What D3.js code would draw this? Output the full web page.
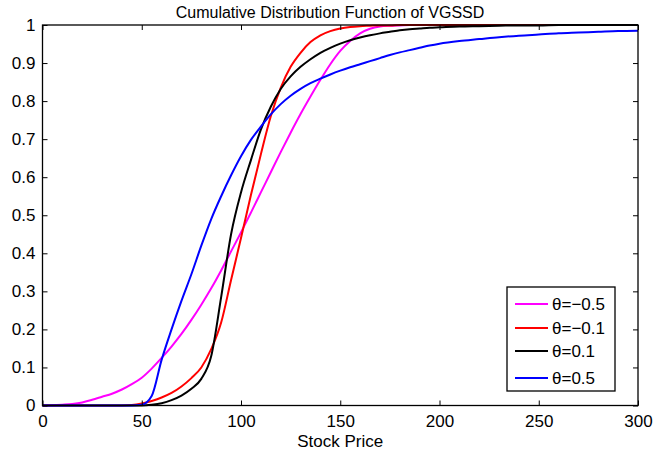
<!DOCTYPE html>
<html>
<head>
<meta charset="utf-8">
<script src="https://cdn.jsdelivr.net/npm/d3@7"></script>
<style>
  html, body { margin: 0; padding: 0; background: #fff; }
  svg { display: block; font-family: "Liberation Sans", Arial, Helvetica, sans-serif; }
</style>
</head>
<body>
<svg id="chart" width="654" height="457"></svg>
<script>
// Stock price grid shared by all curves
const price = [0, 5, 10, 15, 20, 25, 30, 35, 40, 45, 50, 55, 60, 65, 70, 75, 80, 85, 90, 95,
  100, 105, 110, 115, 120, 125, 130, 135, 140, 145, 150, 155, 160, 165, 170, 175, 180, 185, 190, 195,
  200, 210, 220, 230, 240, 250, 260, 270, 280, 290, 300];

// CDF values of the VGSSD for each theta
const cdfThetaM05 = [0, 0.0005, 0.002, 0.004, 0.008, 0.015, 0.023, 0.031, 0.042, 0.056, 0.073, 0.097, 0.125, 0.155, 0.188, 0.225, 0.265, 0.308, 0.355, 0.405,
  0.455, 0.507, 0.56, 0.613, 0.666, 0.717, 0.766, 0.812, 0.856, 0.897, 0.932, 0.958, 0.978, 0.99, 0.996, 0.998, 0.999, 1, 1, 1,
  1, 1, 1, 1, 1, 1, 1, 1, 1, 1, 1];
const cdfThetaM01 = [0, 0, 0, 0, 0, 0, 0, 0, 0, 0.001, 0.005, 0.012, 0.021, 0.033, 0.05, 0.072, 0.1, 0.148, 0.218, 0.33,
  0.44, 0.553, 0.66, 0.76, 0.835, 0.89, 0.927, 0.955, 0.973, 0.984, 0.991, 0.995, 0.997, 0.998, 0.999, 0.999, 1, 1, 1, 1,
  1, 1, 1, 1, 1, 1, 1, 1, 1, 1, 1];
const cdfThetaP01 = [0, 0, 0, 0, 0, 0, 0, 0, 0, 0, 0, 0.002, 0.006, 0.014, 0.026, 0.044, 0.07, 0.13, 0.285, 0.45,
  0.56, 0.645, 0.725, 0.785, 0.832, 0.865, 0.89, 0.91, 0.927, 0.94, 0.951, 0.96, 0.967, 0.973, 0.978, 0.982, 0.986, 0.989, 0.991, 0.993,
  0.994, 0.996, 0.997, 0.998, 0.999, 0.999, 1, 1, 1, 1, 1];
const cdfThetaP05 = [0, 0, 0, 0, 0, 0, 0, 0, 0, 0, 0.002, 0.025, 0.12, 0.2, 0.275, 0.345, 0.42, 0.49, 0.55, 0.605,
  0.655, 0.698, 0.733, 0.765, 0.792, 0.814, 0.832, 0.847, 0.859, 0.87, 0.88, 0.889, 0.897, 0.905, 0.913, 0.921, 0.928, 0.934, 0.94, 0.946,
  0.951, 0.958, 0.963, 0.968, 0.972, 0.975, 0.978, 0.98, 0.982, 0.984, 0.985];

const seriesNames = ["θ=−0.5", "θ=−0.1", "θ=0.1", "θ=0.5"];
const seriesColors = ["#ff00ff", "#ff0000", "#000000", "#0000ff"];
const seriesValues = [cdfThetaM05, cdfThetaM01, cdfThetaP01, cdfThetaP05];

const xTicks = [0, 50, 100, 150, 200, 250, 300];
const yTicks = [0, 0.1, 0.2, 0.3, 0.4, 0.5, 0.6, 0.7, 0.8, 0.9, 1];

const titleText = "Cumulative Distribution Function of VGSSD";
const xLabelText = "Stock Price";

// Layout
const margin = { left: 42.5, right: 16, top: 25, bottom: 51.5 };
const W = 654, H = 457;
const svg = d3.select("#chart");

const x = d3.scaleLinear().domain([0, 300]).range([margin.left, W - margin.right]);
const y = d3.scaleLinear().domain([0, 1]).range([H - margin.bottom, margin.top]);

const fontSize = 17;
const tickLen = 5;

// Curves
const line = d3.line()
  .x((d, i) => x(price[i]))
  .y(d => y(d))
  .curve(d3.curveMonotoneX);

const plot = svg.append("g");
seriesValues.forEach((vals, k) => {
  plot.append("path")
    .attr("d", line(vals))
    .attr("fill", "none")
    .attr("stroke", seriesColors[k])
    .attr("stroke-width", 2)
    .attr("stroke-linejoin", "round");
});

// Axes: ticks point inward on all four sides
const fmtY = d => String(Math.round(d * 10) / 10);
const bottomAxis = d3.axisBottom(x).tickValues(xTicks).tickSize(-tickLen).tickPadding(9).tickFormat(d3.format("d"));
const topAxis = d3.axisTop(x).tickValues(xTicks).tickSize(-tickLen).tickFormat("");
const leftAxis = d3.axisLeft(y).tickValues(yTicks).tickSize(-tickLen).tickPadding(7).tickFormat(fmtY);
const rightAxis = d3.axisRight(y).tickValues(yTicks).tickSize(-tickLen).tickFormat("");

function styleAxis(g) {
  g.select(".domain").remove();
  g.selectAll(".tick line").attr("stroke", "#000").attr("stroke-width", 1);
  g.selectAll(".tick text").attr("fill", "#000").style("font-size", fontSize + "px")
    .style("font-family", '"Liberation Sans", Arial, sans-serif');
}

svg.append("g").attr("transform", `translate(0,${y(0)})`).call(bottomAxis).call(styleAxis);
svg.append("g").attr("transform", `translate(0,${y(1)})`).call(topAxis).call(styleAxis);
svg.append("g").attr("transform", `translate(${x(0)},0)`).call(leftAxis).call(styleAxis);
svg.append("g").attr("transform", `translate(${x(300)},0)`).call(rightAxis).call(styleAxis);

// Plot box
svg.append("rect")
  .attr("x", x(0)).attr("y", y(1))
  .attr("width", x(300) - x(0)).attr("height", y(0) - y(1))
  .attr("fill", "none").attr("stroke", "#000").attr("stroke-width", 1.3);

// Title and axis label
svg.append("text")
  .attr("x", 330).attr("y", 18)
  .attr("text-anchor", "middle")
  .style("font-size", "16px")
  .text(titleText);

svg.append("text")
  .attr("x", (x(0) + x(300)) / 2).attr("y", 447)
  .attr("text-anchor", "middle")
  .style("font-size", fontSize + "px")
  .text(xLabelText);

// Legend
const legend = svg.append("g").attr("transform", "translate(507,287)");
legend.append("rect")
  .attr("width", 108).attr("height", 104)
  .attr("fill", "#fff").attr("stroke", "#000").attr("stroke-width", 1.3);
const rowY = [17, 41, 64, 91];
seriesNames.forEach((name, k) => {
  const g = legend.append("g").attr("transform", `translate(0,${rowY[k]})`);
  g.append("line").attr("x1", 8).attr("x2", 41).attr("y1", 0).attr("y2", 0)
    .attr("stroke", seriesColors[k]).attr("stroke-width", 2);
  g.append("text").attr("x", 45).attr("y", 0).attr("dy", "0.35em")
    .style("font-size", fontSize + "px").text(name);
});
</script>
</body>
</html>
